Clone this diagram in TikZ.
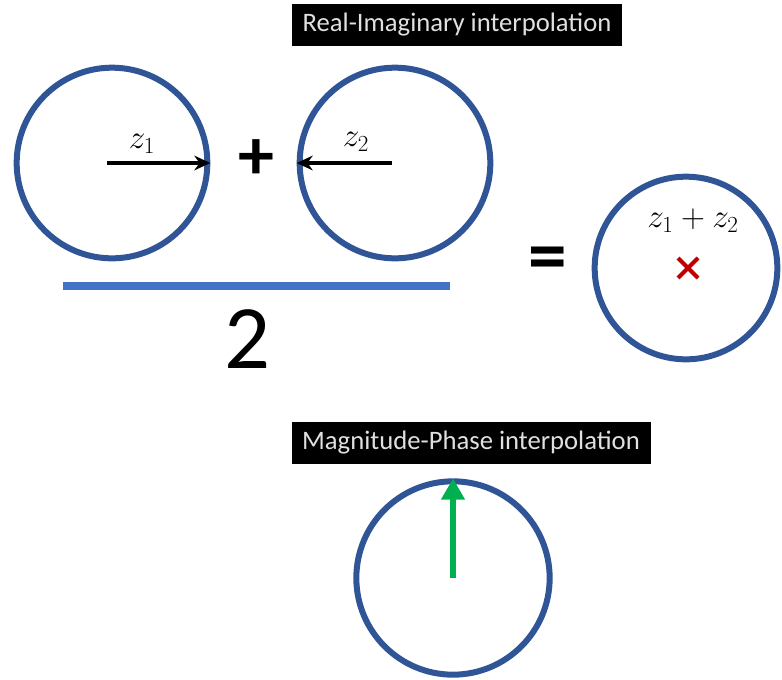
\documentclass[tikz,border=0pt]{standalone}
\usepackage{fontspec}
\setmainfont{Carlito}
\usetikzlibrary{arrows.meta,calc}
\definecolor{ringblue}{HTML}{2F5597}
\definecolor{barblue}{HTML}{4472C4}
\definecolor{arrgreen}{HTML}{00B050}
\definecolor{crossred}{HTML}{C00000}
\tikzset{
  ring/.style={circle, draw=ringblue, line width=4.5pt, minimum size=#1, inner sep=0pt},
  title/.style={fill=black, text=white!88!black, font=\fontsize{20}{24}\selectfont, inner xsep=8pt, minimum height=32pt},
  vec/.style={-{Stealth[length=12pt,width=11pt]}, line width=2.6pt, black},
  zlab/.style={font=\fontsize{24}{28}\selectfont},
}
\begin{document}
\begin{tikzpicture}[x=0.75pt,y=-0.75pt]
\useasboundingbox (0,0) rectangle (782,679);
\node[title] (t1) at (457,25) {Real-Imaginary interpolation};
\node[ring=143pt] (c1) at (112,163) {};
\node[ring=143pt] (c2) at (395,163) {};
\node[ring=137pt] (c3) at (686,268) {};
\node[ring=145pt] (c4) at (453,578) {};
\coordinate (a1s) at (107,163);
\draw[vec] (a1s) -- (c1.east);
\coordinate (a2s) at (392,163);
\draw[vec] (a2s) -- (c2.west);
\node[zlab] (z1) at (142,144) {$z_1$};
\node[zlab] (z2) at (356,142) {$z_2$};
\node[font=\fontsize{54}{60}\selectfont\bfseries] (plus) at (256,160) {+};
\coordinate (bl) at (63,286);
\coordinate (br) at (450,286);
\draw[barblue, line width=6pt] (bl) -- (br);
\node[font=\fontsize{68}{72}\selectfont] (two) at (247,339) {2};
\node[font=\fontsize{58}{62}\selectfont\bfseries] (eq) at (548,264) {=};
\node[zlab] (zs) at (693,221) {$z_1+z_2$};
\coordinate (x) at (688,268);
\draw[crossred, line width=3pt] ($(x)+(-10,-10)$) -- ($(x)+(10,10)$) ($(x)+(-10,10)$) -- ($(x)+(10,-10)$);
\node[title] (t2) at (471,443) {Magnitude-Phase interpolation};
\coordinate (gs) at (453,578);
\draw[arrgreen, line width=4.5pt, -{Triangle[length=16pt,width=17pt]}] (gs) -- (c4.north);
\end{tikzpicture}
\end{document}
